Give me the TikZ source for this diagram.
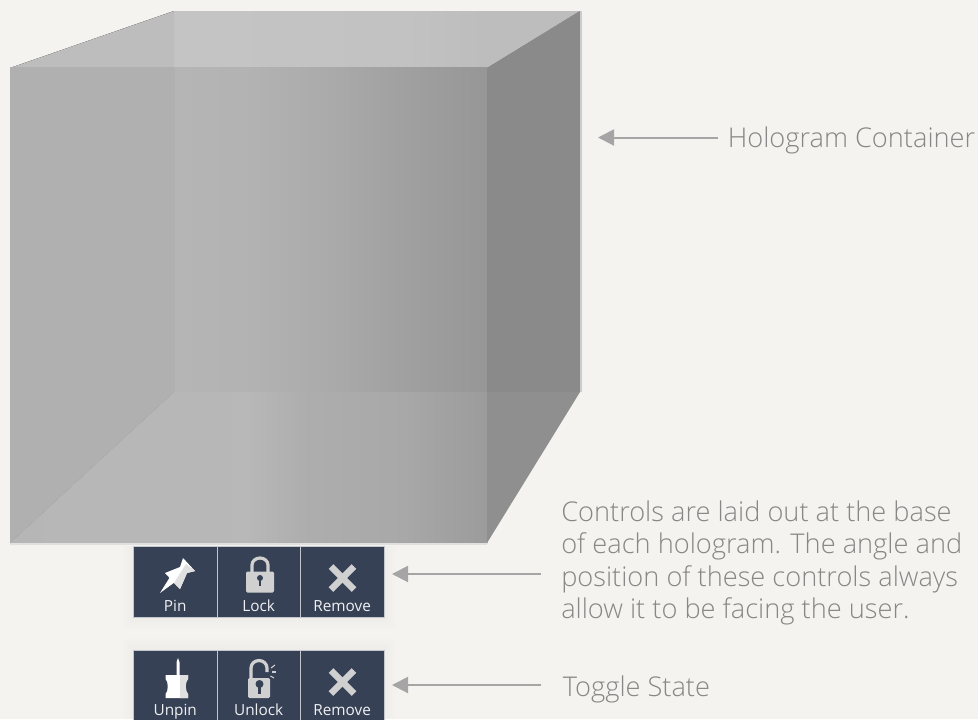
\documentclass[tikz,border=0pt]{standalone}
\usepackage{fontspec}
\setmainfont{Open Sans}[UprightFont=* Light]
\newfontfamily\ctrlfont{Open Sans}
\usepackage{xcolor}
\usetikzlibrary{arrows.meta,positioning}
\definecolor{holopaper}{RGB}{244,243,239}
\definecolor{holonavy}{RGB}{54,65,85}
\definecolor{holoicon}{RGB}{208,208,208}
\definecolor{holoarrow}{RGB}{165,165,165}
\definecolor{holotext}{RGB}{135,135,135}
\pgfdeclarehorizontalshading{holofront}{100bp}{color(0bp)=(black!31);color(42.2bp)=(black!31);color(42.3bp)=(black!29);color(50bp)=(black!30);color(58bp)=(black!33);color(66bp)=(black!37);color(75bp)=(black!41);color(100bp)=(black!41)}
\pgfdeclarehorizontalshading{holotop}{100bp}{color(0bp)=(black!26);color(39.3bp)=(black!26);color(39.4bp)=(black!23);color(60bp)=(black!24);color(67bp)=(black!26);color(100bp)=(black!26)}
\pgfdeclarehorizontalshading{holofloor}{100bp}{color(0bp)=(black!29);color(50bp)=(black!28);color(56bp)=(black!32);color(66bp)=(black!34);color(75bp)=(black!39);color(100bp)=(black!39)}
\tikzset{
  ctrlbox/.style={draw=white!70!holonavy, line width=0.6pt, fill=holonavy, minimum width=62.6pt, minimum height=53.2pt, inner sep=0pt, outer sep=0pt, anchor=north west},
  ctrltext/.style={text=white!92!holonavy, font=\ctrlfont\fontsize{11.5}{13}\selectfont, inner sep=0pt, anchor=base},
  calltext/.style={text=holotext, font=\fontsize{20.4}{24.2}\selectfont, align=left, inner sep=0pt, anchor=base west},
  callarrow/.style={{Triangle[length=12pt,width=12pt]}-, holoarrow, line width=1.5pt},
  iconfill/.style={fill=holoicon}
}
\begin{document}
\begin{tikzpicture}[x=0.75pt, y=-0.75pt]
  \useasboundingbox (0,0) rectangle (978,719);
  \fill [holopaper] (0,0) rectangle (978,719);

  % Hologram cube
  \fill [shading=holofront] (10,68) rectangle (487,543);
  \fill [shading=holotop] (10,68) -- (174,11) -- (580,11) -- (487,68) -- cycle;
  \fill [black!46] (487,68) -- (580,11) -- (580,392) -- (487,392) -- cycle;
  \fill [shading=holofloor] (10,543) -- (174,392) -- (487,392) -- (487,543) -- cycle;
  \fill [black!44] (487,392) -- (580,392) -- (487,543) -- cycle;
  \fill [black!20] (580,11) rectangle (582,392);
  \fill [black!12] (10,543) rectangle (487,545);
  \fill [shading=holofront] (10,67.5) rectangle (487,68.5);
  \draw [black!30, line width=0.6pt] (10,543) -- (174,392);

  % Controls
  \foreach \g in {2,4,...,12} {
    \fill [black, opacity=0.005] (134-\g,650-\g) rectangle (384+\g,719);
    \fill [black, opacity=0.005] (134-\g,546) rectangle (384+\g,617+\g);
  }
  \node [ctrlbox] (pin) at (133.5,546) {};
  \node [ctrlbox, right=0pt of pin] (lock) {};
  \node [ctrlbox, right=0pt of lock] (remove) {};
  \node [ctrlbox] (unpin) at (133.5,650) {};
  \node [ctrlbox, right=0pt of unpin] (unlock) {};
  \node [ctrlbox, right=0pt of unlock] (removeb) {};
  \foreach \nm/\txt in {pin/Pin,lock/Lock,remove/Remove,unpin/Unpin,unlock/Unlock,removeb/Remove}
    \node [ctrltext] (\nm text) at ([yshift=4pt]\nm.south) {\txt};

  % Pin icon
  \fill [white] (160,593) -- (170,577) -- (175,582) -- cycle;
  \fill [white] (183,558) -- (195,571) -- (187,573) -- (180,589) -- (165,573) -- (180,567) -- cycle;
  \fill [black!12] (195,571) -- (187,573) -- (180,589) -- (174,583) -- (186,564) -- cycle;

  % Lock icon
  \draw [holoicon, line width=2.4pt] (252,574) -- (252,565) arc [start angle=180, end angle=360, x radius=8, y radius=7] -- (268,574);
  \fill [iconfill, rounded corners=1pt] (246,571.5) rectangle (274,592.5);
  \fill [holonavy] (260,578) circle [radius=3];
  \fill [holonavy] (258.6,578) rectangle (261.4,586);

  % Remove icons
  \foreach \cy in {578,682} {
    \draw [holoicon, line width=5pt] (331,\cy-11.5) -- (354,\cy+11.5);
    \draw [holoicon, line width=5pt] (354,\cy-11.5) -- (331,\cy+11.5);
  }

  % Unpin icon
  \fill [white] (176.5,676) -- (176.5,662) -- (178,658) -- (179.5,662) -- (179.5,676) -- cycle;
  \fill [white] (165.5,675) -- (188,675) -- (188,679) .. controls (185,681) and (185,692) .. (188,694) -- (188,698) -- (165.5,698) -- (165.5,694) .. controls (168.5,692) and (168.5,681) .. (165.5,679) -- cycle;
  \fill [black!12] (180,675) -- (188,675) -- (188,679) .. controls (185,681) and (185,692) .. (188,694) -- (188,698) -- (180,698) -- cycle;

  % Unlock icon
  \draw [holoicon, line width=2.4pt] (251,680) -- (251,668) arc [start angle=180, end angle=360, x radius=8, y radius=7.5] -- (267,672);
  \fill [iconfill, rounded corners=1pt] (248,678) rectangle (270,698);
  \fill [holonavy] (259.5,684) circle [radius=4];
  \fill [holonavy] (258,684) rectangle (261,694);
  \draw [holoicon, line width=0.8pt] (271,668) -- (275,665);
  \draw [holoicon, line width=0.8pt] (272,672) -- (276,672);
  \draw [holoicon, line width=0.8pt] (270.5,676) -- (274,678);

  % Labels
  \node [calltext] (hololabel) at (727.5,147) {Hologram Container};
  \node [calltext] (ctrlnote) at (561,618.5) {Controls are laid out at the base\\of each hologram. The angle and\\position of these controls always\\allow it to be facing the user.};
  \node [calltext] (togglelabel) at (562.5,696.7) {Toggle State};

  % Arrows
  \coordinate (holotip) at (598,137.5);
  \coordinate (ctrltip) at (392,574);
  \coordinate (toggletip) at (392,685);
  \draw [callarrow, shorten >=7.5pt] (holotip) -- (holotip -| hololabel.west);
  \draw [callarrow, shorten >=15pt] (ctrltip) -- (ctrltip -| ctrlnote.west);
  \draw [callarrow, shorten >=16pt] (toggletip) -- (toggletip -| togglelabel.west);
\end{tikzpicture}
\end{document}
